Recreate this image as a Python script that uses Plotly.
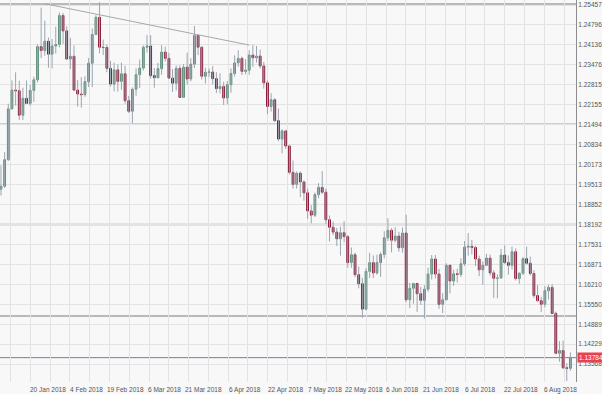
import plotly.graph_objects as go
import pandas as pd

# ---- data (EUR/USD daily) ----
dates = pd.bdate_range("2018-01-10", "2018-08-16")

open_ = [1.1936,1.1946,1.2034,1.2202,1.2264,1.2262,1.2181,1.2237,1.2220,1.2263,
         1.2298,1.2408,1.2395,1.2426,1.2383,1.2410,1.2415,1.2511,1.2460,1.2367,
         1.2376,1.2264,1.2251,1.2249,1.2292,1.2353,1.2448,1.2505,1.2406,1.2405,
         1.2336,1.2284,1.2331,1.2293,1.2318,1.2229,1.2194,1.2267,1.2315,1.2337,
         1.2406,1.2410,1.2312,1.2305,1.2335,1.2390,1.2369,1.2304,1.2287,1.2336,
         1.2240,1.2340,1.2301,1.2350,1.2445,1.2406,1.2310,1.2323,1.2324,1.2302,
         1.2269,1.2276,1.2238,1.2282,1.2319,1.2354,1.2369,1.2326,1.2330,1.2380,
         1.2371,1.2377,1.2344,1.2288,1.2210,1.2232,1.2163,1.2102,1.2129,1.2079,
         1.1992,1.1952,1.1989,1.1960,1.1924,1.1864,1.1850,1.1918,1.1942,1.1926,
         1.1835,1.1810,1.1794,1.1772,1.1792,1.1779,1.1693,1.1719,1.1653,1.1623,
         1.1539,1.1664,1.1693,1.1659,1.1693,1.1720,1.1775,1.1800,1.1767,1.1781,
         1.1742,1.1791,1.1570,1.1608,1.1624,1.1590,1.1568,1.1605,1.1655,1.1705,
         1.1655,1.1555,1.1570,1.1684,1.1632,1.1656,1.1654,1.1689,1.1744,1.1747,
         1.1743,1.1705,1.1669,1.1684,1.1708,1.1659,1.1641,1.1642,1.1718,1.1693,
         1.1684,1.1729,1.1640,1.1658,1.1706,1.1691,1.1657,1.1584,1.1567,1.1555,
         1.1600,1.1611,1.1525,1.1393,1.1402,1.1345,1.1343]
high = [1.2015,1.2059,1.2219,1.2296,1.2323,1.2295,1.2272,1.2296,1.2281,1.2308,
        1.2415,1.2537,1.2494,1.2438,1.2433,1.2474,1.2521,1.2519,1.2475,1.2437,
        1.2412,1.2298,1.2307,1.2310,1.2370,1.2468,1.2512,1.2555,1.2431,1.2415,
        1.2361,1.2355,1.2349,1.2355,1.2345,1.2245,1.2273,1.2336,1.2365,1.2412,
        1.2446,1.2446,1.2337,1.2354,1.2413,1.2408,1.2387,1.2334,1.2345,1.2346,
        1.2350,1.2388,1.2370,1.2476,1.2446,1.2409,1.2338,1.2336,1.2343,1.2323,
        1.2320,1.2292,1.2294,1.2336,1.2379,1.2396,1.2375,1.2366,1.2396,1.2414,
        1.2410,1.2398,1.2357,1.2296,1.2254,1.2238,1.2203,1.2135,1.2133,1.2083,
        1.2031,1.1995,1.1995,1.1965,1.1938,1.1883,1.1925,1.1956,1.1996,1.1938,
        1.1849,1.1829,1.1808,1.1812,1.1830,1.1784,1.1743,1.1726,1.1680,1.1643,
        1.1675,1.1725,1.1717,1.1719,1.1727,1.1797,1.1840,1.1807,1.1810,1.1795,
        1.1809,1.1852,1.1626,1.1625,1.1624,1.1613,1.1618,1.1676,1.1718,1.1718,
        1.1672,1.1592,1.1691,1.1684,1.1670,1.1673,1.1708,1.1764,1.1791,1.1768,
        1.1749,1.1716,1.1697,1.1722,1.1720,1.1668,1.1654,1.1738,1.1750,1.1717,
        1.1746,1.1740,1.1660,1.1711,1.1746,1.1713,1.1668,1.1619,1.1580,1.1615,
        1.1620,1.1621,1.1531,1.1433,1.1435,1.1360,1.1396]
low = [1.1915,1.1940,1.2029,1.2200,1.2213,1.2165,1.2165,1.2218,1.2212,1.2225,
       1.2290,1.2370,1.2378,1.2338,1.2336,1.2385,1.2405,1.2417,1.2367,1.2334,
       1.2261,1.2209,1.2206,1.2242,1.2274,1.2274,1.2447,1.2386,1.2380,1.2323,
       1.2276,1.2260,1.2259,1.2265,1.2219,1.2188,1.2155,1.2245,1.2271,1.2329,
       1.2388,1.2302,1.2272,1.2303,1.2315,1.2359,1.2301,1.2258,1.2263,1.2239,
       1.2238,1.2283,1.2293,1.2337,1.2380,1.2299,1.2286,1.2307,1.2283,1.2254,
       1.2253,1.2215,1.2217,1.2255,1.2309,1.2341,1.2314,1.2316,1.2315,1.2341,
       1.2355,1.2336,1.2269,1.2184,1.2193,1.2159,1.2095,1.2055,1.2069,1.1985,
       1.1938,1.1938,1.1910,1.1898,1.1838,1.1823,1.1844,1.1906,1.1920,1.1820,
       1.1763,1.1784,1.1748,1.1716,1.1760,1.1676,1.1676,1.1645,1.1608,1.1510,
       1.1535,1.1642,1.1642,1.1653,1.1646,1.1707,1.1765,1.1727,1.1760,1.1729,
       1.1726,1.1562,1.1542,1.1557,1.1530,1.1553,1.1508,1.1597,1.1637,1.1640,
       1.1540,1.1526,1.1569,1.1591,1.1616,1.1627,1.1646,1.1682,1.1716,1.1720,
       1.1682,1.1648,1.1619,1.1681,1.1650,1.1576,1.1575,1.1642,1.1689,1.1653,
       1.1670,1.1634,1.1623,1.1652,1.1686,1.1650,1.1576,1.1562,1.1529,1.1545,
       1.1571,1.1525,1.1389,1.1365,1.1340,1.1301,1.1335]
close = [1.1946,1.2034,1.2202,1.2264,1.2262,1.2181,1.2237,1.2220,1.2263,1.2298,
         1.2408,1.2395,1.2426,1.2383,1.2410,1.2415,1.2511,1.2460,1.2367,1.2376,
         1.2264,1.2251,1.2249,1.2292,1.2353,1.2448,1.2505,1.2406,1.2405,1.2336,
         1.2284,1.2331,1.2293,1.2318,1.2229,1.2194,1.2267,1.2315,1.2337,1.2406,
         1.2410,1.2312,1.2305,1.2335,1.2390,1.2369,1.2304,1.2287,1.2336,1.2240,
         1.2340,1.2301,1.2350,1.2445,1.2406,1.2310,1.2323,1.2324,1.2302,1.2269,
         1.2276,1.2238,1.2282,1.2319,1.2354,1.2369,1.2326,1.2330,1.2380,1.2371,
         1.2377,1.2344,1.2288,1.2210,1.2232,1.2163,1.2102,1.2129,1.2079,1.1992,
         1.1952,1.1989,1.1960,1.1924,1.1864,1.1850,1.1918,1.1942,1.1926,1.1835,
         1.1810,1.1794,1.1772,1.1792,1.1779,1.1693,1.1719,1.1653,1.1623,1.1539,
         1.1664,1.1693,1.1659,1.1693,1.1720,1.1775,1.1800,1.1767,1.1781,1.1742,
         1.1791,1.1570,1.1608,1.1624,1.1590,1.1568,1.1605,1.1655,1.1705,1.1655,
         1.1555,1.1570,1.1684,1.1632,1.1656,1.1654,1.1689,1.1744,1.1747,1.1743,
         1.1705,1.1669,1.1684,1.1708,1.1659,1.1641,1.1642,1.1718,1.1693,1.1684,
         1.1729,1.1640,1.1658,1.1706,1.1691,1.1657,1.1584,1.1567,1.1555,1.1600,
         1.1611,1.1525,1.1393,1.1402,1.1345,1.1343,1.1378]

y_ticks = ["1.25457","1.24796","1.24136","1.23476","1.22815","1.22155","1.21494",
           "1.20834","1.20173","1.19513","1.18852","1.18192","1.17531","1.16871",
           "1.16210","1.15550","1.14889","1.14229","1.13568"]

x_label_dates = ["2018-01-20","2018-02-04","2018-02-19","2018-03-06","2018-03-21",
                 "2018-04-06","2018-04-22","2018-05-07","2018-05-22","2018-06-06",
                 "2018-06-21","2018-07-06","2018-07-22","2018-08-06"]

level_lines = [1.2549, 1.2151, 1.1819, 1.1516]
bid_price = 1.13784
trend_dates = ["2018-01-26", "2018-04-16"]
trend_prices = [1.2550, 1.2413]

# ---- build ----
n = len(dates)
xi = list(range(n))
date_index = {d.strftime("%Y-%m-%d"): i for i, d in enumerate(dates)}

wx, wy = [], []
for i in xi:
    wx += [i, i, None]
    wy += [low[i], high[i], None]
body_hi = [max(o, c) for o, c in zip(open_, close)]
body_lo = [min(o, c) for o, c in zip(open_, close)]

fig = go.Figure()
fig.add_trace(go.Scatter(x=wx, y=wy, mode="lines",
                         line=dict(color="#9aa5b0", width=1), hoverinfo="skip",
                         showlegend=False))
fig.add_trace(go.Candlestick(
    x=xi, open=open_, high=body_hi, low=body_lo, close=close,
    increasing=dict(line=dict(color="#5d8c76", width=1), fillcolor="#7aab93"),
    decreasing=dict(line=dict(color="#861432", width=1), fillcolor="#9c1d3c"),
    whiskerwidth=0, showlegend=False))
fig.add_trace(go.Scatter(x=[date_index[d] for d in trend_dates], y=trend_prices,
                         mode="lines", line=dict(color="#a8a8a8", width=1),
                         hoverinfo="skip", showlegend=False))

for lv in level_lines:
    fig.add_shape(type="line", xref="paper", x0=0, x1=1, yref="y", y0=lv, y1=lv,
                  line=dict(color="#a4a4a4", width=1.5), layer="below")
fig.add_shape(type="line", xref="paper", x0=0, x1=1, yref="y", y0=bid_price, y1=bid_price,
              line=dict(color="#6c80b0", width=1), layer="below")

# date labels: platform spaces labels by calendar time
BARS_PER_DAY = 0.7085
LABEL_ANCHOR = 12.88
first_label = pd.Timestamp(x_label_dates[0])
for d in x_label_dates:
    ts = pd.Timestamp(d)
    pos = LABEL_ANCHOR + (ts - first_label).days * BARS_PER_DAY
    fig.add_annotation(x=pos, xref="x", y=0, yref="paper", yanchor="top",
                       yshift=-2, text=f"{ts.day} {ts.strftime('%b %Y')}",
                       showarrow=False, font=dict(size=6.5, color="#555555"))

fig.add_annotation(x=1, xref="paper", xanchor="left", xshift=1, y=bid_price, yref="y",
                   text=f"{bid_price:.5f}", showarrow=False, bgcolor="#e8414f",
                   font=dict(size=6.5, color="white"), borderpad=1)

fig.update_layout(
    width=602, height=394, margin=dict(l=0, r=26, t=0, b=12, autoexpand=False),
    paper_bgcolor="#f8f8f8", plot_bgcolor="#f8f8f8",
    font=dict(family="Liberation Sans, Arial, sans-serif", size=6.5, color="#555555"),
    showlegend=False,
    xaxis=dict(range=[-0.274, 157.53], rangeslider=dict(visible=False),
               tick0=2.66, dtick=5.414, showticklabels=False, ticks="",
               showgrid=True, gridcolor="#e3e3e3", gridwidth=1, zeroline=False),
    yaxis=dict(side="right", range=[1.12978, 1.25623],
               tickvals=[float(t) for t in y_ticks], ticktext=y_ticks,
               showgrid=True, gridcolor="#e3e3e3", gridwidth=1, zeroline=False,
               showline=True, linecolor="#8c8c8c", linewidth=1, ticks="",
               tickfont=dict(size=6.5, color="#555555")),
)

fig.write_html("out.html", config={"displayModeBar": False},
               post_script="document.body.style.margin='0';document.body.style.background='#f8f8f8';")
